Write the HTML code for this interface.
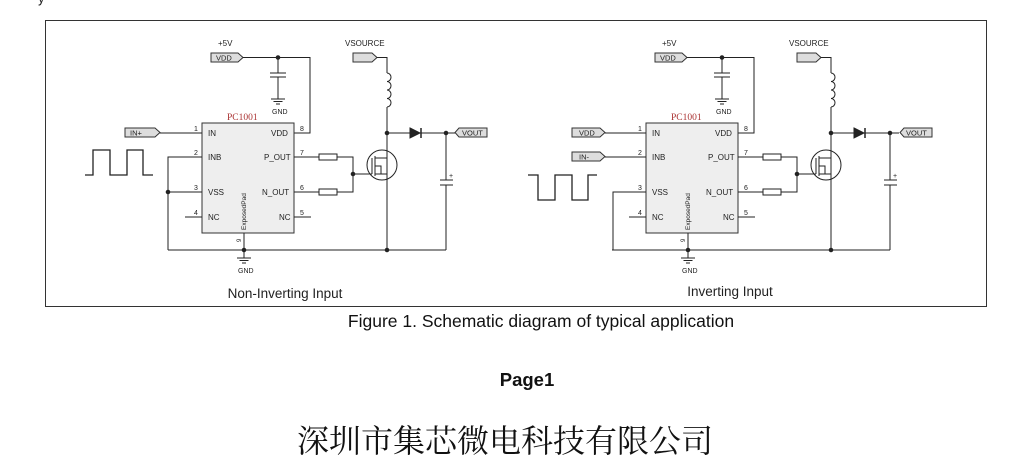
<!DOCTYPE html>
<html><head><meta charset="utf-8"><style>
html,body{margin:0;padding:0;background:#fff;width:1023px;height:473px;overflow:hidden}
svg{display:block}
</style></head><body>
<svg width="1023" height="473" viewBox="0 0 1023 473" xmlns="http://www.w3.org/2000/svg" font-family="Liberation Sans, sans-serif">
<defs>
<g id="common" stroke="#222" stroke-width="1" fill="none">
  <path d="M211,53 H238 L243,57.5 L238,62 H211 Z" fill="#ddd" stroke="#333"/>
  <path d="M243,57.5 H310 V133 H294"/>
  <circle cx="278" cy="57.5" r="1.8" fill="#222"/>
  <path d="M278,57.5 V73 M270,73 H286 M270,77 H286 M278,77 V99 M271,99 H285 M273.5,101.5 H282.5 M276,104 H280"/>
  <rect x="202" y="123" width="92" height="110" fill="#eee" stroke="#333"/>
  <path d="M185,217 H202 M294,157 H319 M337,157 H353 V192 H337 M319,192 H294 M294,217 H311"/>
  <rect x="319" y="154" width="18" height="6" fill="#fff"/>
  <rect x="319" y="189" width="18" height="6" fill="#fff"/>
  <circle cx="353" cy="174" r="1.8" fill="#222"/>
  <path d="M353,174 H372"/>
  <circle cx="382" cy="165" r="15"/>
  <path d="M372,158 V174 M375,156 V176 M375,158 H387 M375,174 H387 M375,166 H381 V174"/>
  <path d="M353,53 H372 L377,57.5 L372,62 H353 Z" fill="#ddd" stroke="#333"/>
  <path d="M377,57.5 H387 V73"/>
  <path d="M387,73 a4,4.25 0 0 1 0,8.5 a4,4.25 0 0 1 0,8.5 a4,4.25 0 0 1 0,8.5 a4,4.25 0 0 1 0,8.5"/>
  <path d="M387,107 V250"/>
  <circle cx="387" cy="133" r="1.8" fill="#222"/>
  <path d="M387,133 H455"/>
  <path d="M410,128 L420,133 L410,138 Z" fill="#222"/>
  <path d="M421,128 V138" stroke-width="1.5"/>
  <circle cx="446" cy="133" r="1.8" fill="#222"/>
  <path d="M446,133 V180 M440,180 H453 M440,185 H453 M446,185 V250"/>
  <path d="M446,250 H168" />
  <circle cx="387" cy="250" r="1.8" fill="#222"/>
  <circle cx="244" cy="250" r="1.8" fill="#222"/>
  <path d="M244,233 V258 M237,258 H251 M239.5,260.5 H248.5 M242,263 H246"/>
</g>
<g id="ctext" fill="#222" font-size="8">
  <text x="218" y="46">+5V</text>
  <text x="216" y="60.5" font-size="7.5">VDD</text>
  <text x="272" y="114" font-size="7">GND</text>
  <text x="227" y="120" font-family="Liberation Serif, serif" font-size="9.5" fill="#a33">PC1001</text>
  <text x="208" y="136">IN</text>
  <text x="208" y="160">INB</text>
  <text x="208" y="195">VSS</text>
  <text x="208" y="220">NC</text>
  <text x="271" y="136">VDD</text>
  <text x="264" y="160">P_OUT</text>
  <text x="262" y="195">N_OUT</text>
  <text x="279" y="220">NC</text>
  <text x="194" y="131" font-size="7">1</text>
  <text x="194" y="155" font-size="7">2</text>
  <text x="194" y="190" font-size="7">3</text>
  <text x="194" y="215" font-size="7">4</text>
  <text x="300" y="131" font-size="7">8</text>
  <text x="300" y="155" font-size="7">7</text>
  <text x="300" y="190" font-size="7">6</text>
  <text x="300" y="215" font-size="7">5</text>
  <text transform="translate(246,230) rotate(-90)" font-size="6.5">ExposedPad</text>
  <text transform="translate(241,242) rotate(-90)" font-size="6">9</text>
  <text x="345" y="46">VSOURCE</text>
  <text x="449" y="178" font-size="7">+</text>
  <text x="238" y="273" font-size="7">GND</text>
</g>
</defs>
<text x="38" y="3" font-size="13" fill="#222">y</text>
<rect x="45.5" y="20.5" width="941" height="286" fill="none" stroke="#333" stroke-width="1"/>

<use href="#common"/>
<use href="#ctext"/>
<g stroke="#222" fill="none">
  <path d="M487,128 H459 L455,132.5 L459,137 H487 Z" fill="#ddd" stroke="#333"/>
  <path d="M125,128 H155 L160,132.5 L155,137 H125 Z" fill="#ddd" stroke="#333"/>
  <path d="M160,133 H202 M202,157 H168 V250 M168,192 H202"/>
  <circle cx="168" cy="192" r="1.8" fill="#222"/>
  <path d="M85,175 H93 V150 H110 V175 H127 V150 H143 V175 H153" stroke-width="1.3"/>
</g>
<text x="130" y="135.5" font-size="7.5" fill="#222">IN+</text>
<text x="462" y="135.5" font-size="7.5" fill="#222">VOUT</text>
<text x="285" y="298" font-size="13.5" text-anchor="middle" fill="#222">Non-Inverting Input</text>

<g transform="translate(444,0)">
<use href="#common"/>
<use href="#ctext"/>
</g>
<g stroke="#222" fill="none">
  <path d="M932,128 H904 L900,132.5 L904,137 H932 Z" fill="#ddd" stroke="#333"/>
  <path d="M572,128 H600 L605,132.5 L600,137 H572 Z" fill="#ddd" stroke="#333"/>
  <path d="M572,152 H600 L605,156.5 L600,161 H572 Z" fill="#ddd" stroke="#333"/>
  <path d="M605,133 H646 M605,157 H646 M646,192 H613 V250 H612"/>
  <path d="M528,175 H538 V200 H555 V175 H572 V200 H588 V175 H597" stroke-width="1.3"/>
</g>
<text x="579" y="135.5" font-size="7.5" fill="#222">VDD</text>
<text x="579" y="159.5" font-size="7.5" fill="#222">IN-</text>
<text x="906" y="135.5" font-size="7.5" fill="#222">VOUT</text>
<text x="730" y="296" font-size="13.5" text-anchor="middle" fill="#222">Inverting Input</text>

<text x="541" y="327" font-size="17.5" text-anchor="middle" fill="#111">Figure 1. Schematic diagram of typical application</text>
<text x="527" y="386" font-size="18.5" font-weight="bold" text-anchor="middle" fill="#111">Page1</text>
<text x="505" y="452" font-size="32" text-anchor="middle" fill="#111" font-family="Liberation Serif, 'Noto Serif CJK SC', serif">深圳市集芯微电科技有限公司</text>
</svg>
</body></html>
